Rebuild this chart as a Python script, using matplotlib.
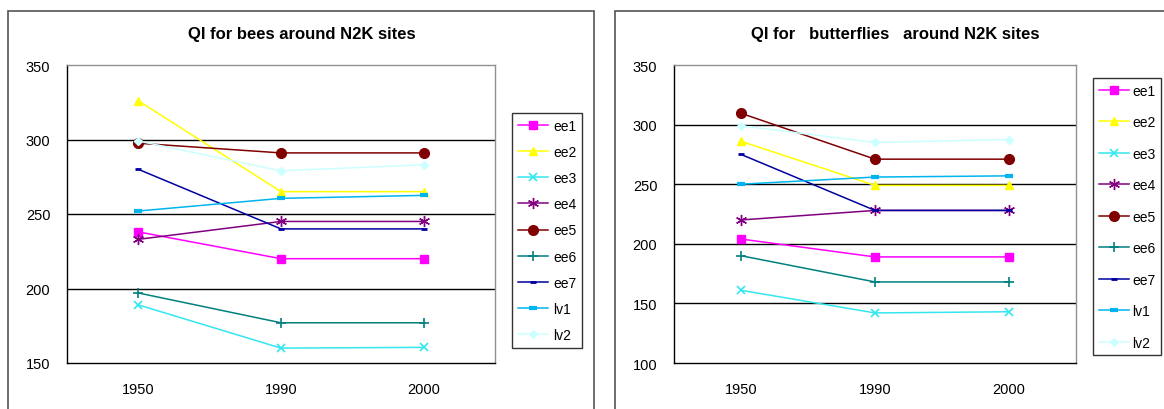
import matplotlib
matplotlib.use("Agg")
import matplotlib.pyplot as plt
from matplotlib.patches import Rectangle

plt.rcParams['font.family'] = ['Liberation Sans', 'DejaVu Sans']

years = ['1950', '1990', '2000']
series = ['ee1', 'ee2', 'ee3', 'ee4', 'ee5', 'ee6', 'ee7', 'lv1', 'lv2']

# QI values, bees
bees_ee1 = [238, 220, 220]
bees_ee2 = [326, 265, 265]
bees_ee3 = [189, 160, 160.5]
bees_ee4 = [233, 245, 245]
bees_ee5 = [297.5, 291, 291]
bees_ee6 = [197, 177, 177]
bees_ee7 = [280, 240, 240]
bees_lv1 = [252, 260.5, 262.5]
bees_lv2 = [299, 279, 283]

# QI values, butterflies
bf_ee1 = [204, 189, 189]
bf_ee2 = [286, 249, 249]
bf_ee3 = [161, 142, 143]
bf_ee4 = [220, 228, 228]
bf_ee5 = [309.5, 271, 271]
bf_ee6 = [190, 168, 168]
bf_ee7 = [275, 228, 228]
bf_lv1 = [250, 256, 257]
bf_lv2 = [299, 285, 287.5]

bees = [bees_ee1, bees_ee2, bees_ee3, bees_ee4, bees_ee5, bees_ee6, bees_ee7, bees_lv1, bees_lv2]
butterflies = [bf_ee1, bf_ee2, bf_ee3, bf_ee4, bf_ee5, bf_ee6, bf_ee7, bf_lv1, bf_lv2]

# excel-ish styles
colors = ['#FF00FF', '#FFFF00', '#33E6F0', '#800080', '#800000', '#008080', '#0000A0', '#00B4F0', '#CCFFFF']
markers = ['s', '^', 'x', (6, 2, 0), 'o', '+', '_', '_', 'D']
msizes = [6, 6, 6, 8, 7, 7, 4, 6, 4]
mews = [1, 1, 1.2, 1, 1, 1.2, 2, 3, 1]

fig = plt.figure(figsize=(11.64, 4.10), dpi=100)
W, H = 1164.0, 410.0

def fx(px):
    return px / W

def fy(py):
    return 1 - py / H

# outer chart boxes
fig.patches.append(Rectangle((fx(8), fy(430)), fx(586), 418 / H, transform=fig.transFigure,
                             fill=False, edgecolor='#555555', lw=1.2))
fig.patches.append(Rectangle((fx(615), fy(430)), fx(560), 418 / H, transform=fig.transFigure,
                             fill=False, edgecolor='#555555', lw=1.2))


def draw(ax, data, title, ylim, grid, leg_xy, labelspacing, textpad, title_x):
    x = list(range(len(years)))
    for vals, name, c, m, ms, mw in zip(data, series, colors, markers, msizes, mews):
        ax.plot(x, vals, color=c, marker=m, markersize=ms, markeredgewidth=mw,
                markerfacecolor=c, markeredgecolor=c, lw=1.1, label=name)
    for g in grid:
        ax.axhline(g, color='black', lw=1.0, zorder=0)
    ax.set_xlim(-0.5, 2.5)
    ax.set_ylim(*ylim)
    ax.set_yticks(range(ylim[0], ylim[1] + 1, 50))
    ax.set_xticks(x)
    ax.set_xticklabels(years)
    ax.tick_params(length=0, labelsize=10.5)
    ax.tick_params(axis='y', pad=12)
    ax.tick_params(axis='x', pad=14)
    for s in ['top', 'right']:
        ax.spines[s].set_color('#909090')
    for s in ['left', 'bottom']:
        ax.spines[s].set_color('black')
    for s in ax.spines.values():
        s.set_linewidth(1.0)
    fig.text(title_x, fy(35), title, ha='center', va='center', fontsize=12, fontweight='bold')
    leg = ax.legend(loc='upper left', bbox_to_anchor=leg_xy, bbox_transform=fig.transFigure,
                    borderaxespad=0, fontsize=10, frameon=True, fancybox=False,
                    handlelength=2.2, handletextpad=textpad, labelspacing=labelspacing,
                    borderpad=0.4)
    leg.get_frame().set_edgecolor('black')
    leg.get_frame().set_linewidth(1.0)


ax1 = fig.add_axes([fx(67), fy(364), fx(428), 298 / H])
draw(ax1, bees, 'QI for bees around N2K sites', (150, 350), [200, 250, 300],
     (fx(512), fy(114)), 0.88, 0.35, fx(302))

ax2 = fig.add_axes([fx(674), fy(364), fx(402), 298 / H])
draw(ax2, butterflies, 'QI for   butterflies   around N2K sites', (100, 350), [150, 200, 250, 300],
     (fx(1093), fy(79)), 1.26, 0.2, fx(895))

fig.savefig('out.png', dpi=100)
